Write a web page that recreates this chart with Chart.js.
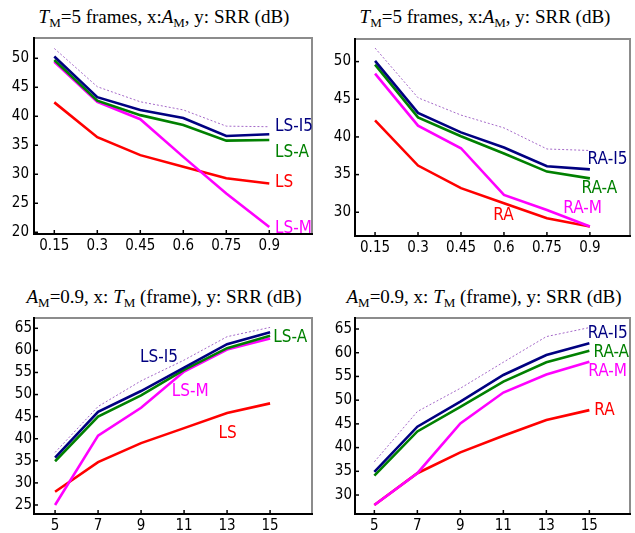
<!DOCTYPE html>
<html>
<head>
<meta charset="utf-8">
<script src="https://cdn.jsdelivr.net/npm/chart.js@4.4.0/dist/chart.umd.min.js"></script>
<style>
  body { margin: 0; background: #fff; width: 635px; height: 533px; position: relative; overflow: hidden; }
  .title { position: absolute; font-family: "Liberation Serif", "Times New Roman", serif; font-size: 19px; line-height: 22px; text-align: center; color: #000; white-space: nowrap; }
  .title .s { font-size: 13px; position: relative; top: 4px; }
  .box { position: absolute; }
</style>
</head>
<body>

<div class="title" style="left:0;top:6px;width:328px"><i>T</i><span class="s">M</span>=5 frames, x:<i>A</i><span class="s">M</span>, y: SRR (dB)</div>
<div class="title" style="left:335px;top:6px;width:300px"><i>T</i><span class="s">M</span>=5 frames, x:<i>A</i><span class="s">M</span>, y: SRR (dB)</div>
<div class="title" style="left:0;top:286px;width:328px"><i>A</i><span class="s">M</span>=0.9, x: <i>T</i><span class="s">M</span> (frame), y: SRR (dB)</div>
<div class="title" style="left:334px;top:286px;width:300px"><i>A</i><span class="s">M</span>=0.9, x: <i>T</i><span class="s">M</span> (frame), y: SRR (dB)</div>

<div class="box" style="left:0;top:30px"><canvas id="c1" width="320" height="240"></canvas></div>
<div class="box" style="left:320px;top:30px"><canvas id="c2" width="315" height="240"></canvas></div>
<div class="box" style="left:0;top:310px"><canvas id="c3" width="320" height="223"></canvas></div>
<div class="box" style="left:320px;top:310px"><canvas id="c4" width="315" height="223"></canvas></div>

<script>
// ================= DATA =================
const amValues = [0.15, 0.3, 0.45, 0.6, 0.75, 0.9];
const tmValues = [5, 7, 9, 11, 13, 15];

const yTicksTop1 = [20, 25, 30, 35, 40, 45, 50];
const yTicksTop2 = [30, 35, 40, 45, 50];
const yTicksBot1 = [25, 30, 35, 40, 45, 50, 55, 60, 65];
const yTicksBot2 = [30, 35, 40, 45, 50, 55, 60, 65];

// top left: LS methods, T_M = 5, x = A_M
const lsI5_am  = [50.3, 43.3, 41.1, 39.7, 36.6, 36.9];
const lsA_am   = [49.7, 42.7, 40.2, 38.5, 35.8, 35.9];
const lsM_am   = [49.4, 42.5, 39.5, 33.0, 26.7, 20.9];
const ls_am    = [42.4, 36.4, 33.3, 31.3, 29.3, 28.4];
const bound1_am = [51.7, 45.1, 42.5, 41.1, 38.3, 38.2];

// top right: RA methods, T_M = 5, x = A_M
const raI5_am  = [50.1, 43.2, 40.6, 38.6, 36.1, 35.7];
const raA_am   = [49.6, 42.6, 40.1, 37.8, 35.4, 34.5];
const raM_am   = [48.4, 41.5, 38.5, 32.3, 30.3, 28.1];
const ra_am    = [42.2, 36.2, 33.2, 31.2, 29.2, 28.1];
const bound2_am = [51.8, 45.2, 42.9, 41.2, 38.4, 38.2];

// bottom left: LS methods, A_M = 0.9, x = T_M
const lsI5_tm  = [35.7, 46.1, 50.8, 56.1, 61.4, 64.1];
const lsA_tm   = [34.9, 45.0, 49.8, 55.6, 60.5, 63.3];
const lsM_tm   = [25.0, 40.7, 47.0, 55.2, 60.2, 62.7];
const ls_tm    = [28.0, 34.7, 39.0, 42.4, 45.8, 48.0];
const bound1_tm = [36.9, 47.3, 53.1, 57.8, 63.1, 65.2];

// bottom right: RA methods, A_M = 0.9, x = T_M
const raI5_tm  = [34.9, 44.4, 49.7, 55.3, 59.5, 62.0];
const raA_tm   = [34.1, 43.4, 48.6, 53.9, 58.0, 60.4];
const raM_tm   = [27.9, 34.6, 45.1, 51.6, 55.4, 58.1];
const ra_tm    = [27.9, 34.6, 39.0, 42.5, 45.8, 47.9];
const bound2_tm = [37.0, 47.6, 52.5, 58.0, 63.4, 65.3];

// ================= STYLE =================
const NAVY = "#000080";
const GREEN = "#008000";
const RED = "#ff0000";
const MAGENTA = "#ff00ff";
const DOTTED = "#a468c8";
const tickFont = { family: '"DejaVu Sans Condensed", "DejaVu Sans", sans-serif', size: 15 };
const labelFont = '17px "DejaVu Sans Condensed", "DejaVu Sans", sans-serif';

function pairs(xs, ys) {
  return xs.map((x, i) => ({ x: x, y: ys[i] }));
}

function line(xs, ys, color, order) {
  return {
    data: pairs(xs, ys),
    borderColor: color,
    borderWidth: 2.6,
    pointRadius: 0,
    tension: 0,
    order: order
  };
}

function dotted(xs, ys) {
  return {
    data: pairs(xs, ys),
    borderColor: DOTTED,
    borderWidth: 1,
    borderDash: [2, 2],
    pointRadius: 0,
    tension: 0,
    order: 9
  };
}

// frame, inward tick marks and the curve names
const framePlugin = {
  id: "frame",
  afterDraw(chart) {
    const ctx = chart.ctx;
    const a = chart.chartArea;
    const xs = chart.scales.x;
    const ys = chart.scales.y;
    ctx.save();
    ctx.lineCap = "square";
    ctx.strokeStyle = "#8c8c8c";
    ctx.lineWidth = 2;
    ctx.beginPath();
    ctx.moveTo(a.left, a.top);
    ctx.lineTo(a.right, a.top);
    ctx.lineTo(a.right, a.bottom);
    ctx.stroke();

    ctx.strokeStyle = "#000";
    ctx.lineWidth = 2;
    ctx.beginPath();
    ctx.moveTo(a.left, a.top);
    ctx.lineTo(a.left, a.bottom);
    ctx.lineTo(a.right, a.bottom);
    ctx.stroke();

    ctx.lineWidth = 1.5;
    ctx.lineCap = "butt";
    ys.ticks.forEach(t => {
      const p = ys.getPixelForValue(t.value);
      ctx.beginPath();
      ctx.moveTo(a.left, p);
      ctx.lineTo(a.left + 4, p);
      ctx.stroke();
    });
    xs.ticks.forEach(t => {
      const p = xs.getPixelForValue(t.value);
      ctx.beginPath();
      ctx.moveTo(p, a.bottom);
      ctx.lineTo(p, a.bottom - 4);
      ctx.stroke();
    });

    const names = chart.options.plugins.frame.names || [];
    ctx.font = labelFont;
    ctx.textAlign = "left";
    ctx.textBaseline = "middle";
    names.forEach(n => {
      ctx.fillStyle = n.color;
      ctx.fillText(n.text, xs.getPixelForValue(n.x), ys.getPixelForValue(n.y));
    });
    ctx.restore();
  }
};

function makeChart(id, cfg) {
  const ctx = document.getElementById(id).getContext("2d");
  return new Chart(ctx, {
    type: "line",
    data: { datasets: cfg.datasets },
    options: {
      responsive: false,
      animation: false,
      devicePixelRatio: 1,
      layout: { padding: { left: 0, right: cfg.padRight, top: cfg.padTop, bottom: 0 } },
      plugins: {
        legend: { display: false },
        tooltip: { enabled: false },
        frame: { names: cfg.names }
      },
      scales: {
        x: {
          type: "linear",
          min: cfg.xMin,
          max: cfg.xMax,
          grid: { display: false, drawTicks: false },
          border: { display: false },
          afterBuildTicks: s => { s.ticks = cfg.xTicks.map(v => ({ value: v })); },
          ticks: {
            font: tickFont,
            color: "#000",
            padding: 3,
            maxRotation: 0,
            autoSkip: false,
            callback: v => String(v)
          },
          afterFit: s => { s.height = cfg.xHeight; s.paddingLeft = 0; s.paddingRight = 0; }
        },
        y: {
          type: "linear",
          min: cfg.yMin,
          max: cfg.yMax,
          grid: { display: false, drawTicks: false },
          border: { display: false },
          afterBuildTicks: s => { s.ticks = cfg.yTicks.map(v => ({ value: v })); },
          ticks: {
            font: tickFont,
            color: "#000",
            padding: cfg.yPad,
            autoSkip: false,
            callback: v => String(v)
          },
          afterFit: s => { s.width = cfg.yWidth; s.paddingTop = 0; s.paddingBottom = 0; }
        }
      }
    },
    plugins: [framePlugin]
  });
}

// ================= CHARTS =================
makeChart("c1", {
  datasets: [
    line(amValues, lsI5_am, NAVY, 0),
    line(amValues, lsA_am, GREEN, 1),
    line(amValues, lsM_am, MAGENTA, 2),
    line(amValues, ls_am, RED, 3),
    dotted(amValues, bound1_am)
  ],
  names: [
    { text: "LS-I5", x: 0.92, y: 38.2, color: NAVY },
    { text: "LS-A", x: 0.92, y: 33.7, color: GREEN },
    { text: "LS", x: 0.92, y: 28.6, color: RED },
    { text: "LS-M", x: 0.92, y: 20.7, color: MAGENTA }
  ],
  xMin: 0.0792, xMax: 1.049, xTicks: amValues,
  yMin: 19.7, yMax: 53.5, yTicks: yTicksTop1,
  yWidth: 34, xHeight: 36, padRight: 8, padTop: 8, yPad: 5
});

makeChart("c2", {
  datasets: [
    line(amValues, raI5_am, NAVY, 0),
    line(amValues, raA_am, GREEN, 1),
    line(amValues, raM_am, MAGENTA, 2),
    line(amValues, ra_am, RED, 3),
    dotted(amValues, bound2_am)
  ],
  names: [
    { text: "RA-I5", x: 0.892, y: 37.0, color: NAVY },
    { text: "RA-A", x: 0.871, y: 33.2, color: GREEN },
    { text: "RA-M", x: 0.807, y: 30.5, color: MAGENTA },
    { text: "RA", x: 0.563, y: 29.5, color: RED }
  ],
  xMin: 0.080, xMax: 1.040, xTicks: amValues,
  yMin: 26.85, yMax: 53.0, yTicks: yTicksTop2,
  yWidth: 35, xHeight: 34, padRight: 5, padTop: 9, yPad: 4
});

makeChart("c3", {
  datasets: [
    line(tmValues, lsI5_tm, NAVY, 0),
    line(tmValues, lsA_tm, GREEN, 1),
    line(tmValues, lsM_tm, MAGENTA, 2),
    line(tmValues, ls_tm, RED, 3),
    dotted(tmValues, bound1_tm)
  ],
  names: [
    { text: "LS-I5", x: 8.95, y: 58.4, color: NAVY },
    { text: "LS-A", x: 15.15, y: 62.9, color: GREEN },
    { text: "LS-M", x: 10.43, y: 50.7, color: MAGENTA },
    { text: "LS", x: 12.6, y: 41.2, color: RED }
  ],
  xMin: 4.02, xMax: 16.95, xTicks: tmValues,
  yMin: 22.96, yMax: 67.33, yTicks: yTicksBot1,
  yWidth: 34, xHeight: 19, padRight: 8, padTop: 8, yPad: 2
});

makeChart("c4", {
  datasets: [
    line(tmValues, raI5_tm, NAVY, 0),
    line(tmValues, raA_tm, GREEN, 1),
    line(tmValues, raM_tm, MAGENTA, 2),
    line(tmValues, ra_tm, RED, 3),
    dotted(tmValues, bound2_tm)
  ],
  names: [
    { text: "RA-I5", x: 14.93, y: 64.1, color: NAVY },
    { text: "RA-A", x: 15.19, y: 60.1, color: GREEN },
    { text: "RA-M", x: 14.95, y: 56.0, color: MAGENTA },
    { text: "RA", x: 15.23, y: 47.7, color: RED }
  ],
  xMin: 4.10, xMax: 16.89, xTicks: tmValues,
  yMin: 26.0, yMax: 67.32, yTicks: yTicksBot2,
  yWidth: 35, xHeight: 19, padRight: 5, padTop: 8, yPad: 3
});
</script>
</body>
</html>
